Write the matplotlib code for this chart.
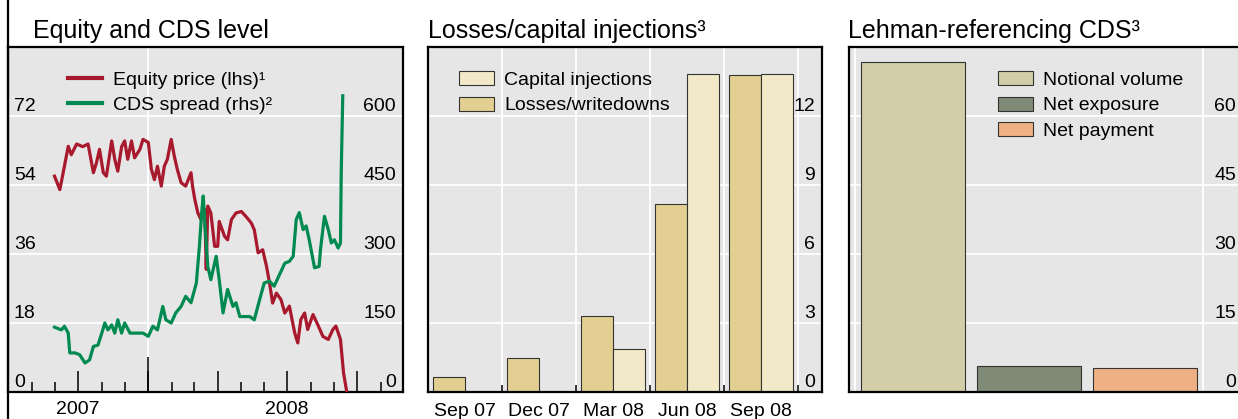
import matplotlib
matplotlib.use("Agg")
import matplotlib.pyplot as plt
import matplotlib.dates as mdates
import matplotlib.transforms as mtransforms
from matplotlib.lines import Line2D
from matplotlib.patches import Patch
import numpy as np
import pandas as pd

plt.rcParams['font.family'] = ['Liberation Sans', 'DejaVu Sans']

# ===== data =====
equity_dates = [
    "2007-08-31", "2007-09-07", "2007-09-13", "2007-09-18", "2007-09-22", "2007-09-29",
    "2007-10-07", "2007-10-14", "2007-10-21", "2007-10-25", "2007-10-29", "2007-11-03",
    "2007-11-07", "2007-11-14", "2007-11-18", "2007-11-22", "2007-11-27", "2007-12-01",
    "2007-12-05", "2007-12-10", "2007-12-14", "2007-12-21", "2007-12-25", "2008-01-01",
    "2008-01-05", "2008-01-09", "2008-01-13", "2008-01-18", "2008-01-22", "2008-01-26",
    "2008-01-31", "2008-02-04", "2008-02-08", "2008-02-13", "2008-02-19", "2008-02-26",
    "2008-02-28", "2008-03-02", "2008-03-06", "2008-03-10", "2008-03-15", "2008-03-17",
    "2008-03-19", "2008-03-23", "2008-03-28", "2008-04-01", "2008-04-03", "2008-04-10",
    "2008-04-14", "2008-04-19", "2008-04-25", "2008-05-02", "2008-05-08", "2008-05-15",
    "2008-05-19", "2008-05-24", "2008-05-30", "2008-06-04", "2008-06-08", "2008-06-12",
    "2008-06-17", "2008-06-23", "2008-06-28", "2008-07-04", "2008-07-11", "2008-07-15",
    "2008-07-19", "2008-07-24", "2008-07-28", "2008-08-04", "2008-08-11", "2008-08-17",
    "2008-08-24", "2008-08-30", "2008-09-03", "2008-09-09", "2008-09-13", "2008-09-17",
]
equity_price = [
    56.3, 52.8, 58.9, 64.1, 61.9, 64.7,
    64.0, 64.7, 57.2, 59.8, 63.3, 57.2,
    56.3, 65.5, 60.7, 57.6, 64.0, 65.5,
    60.7, 65.5, 61.1, 63.3, 65.9, 65.1,
    58.1, 55.4, 58.9, 53.7, 58.9, 60.7,
    65.9, 61.6, 58.1, 54.6, 53.7, 57.2,
    53.7, 50.2, 46.7, 45.0, 47.6, 32.0,
    48.5, 46.7, 38.0, 38.0, 44.5, 40.6,
    39.7, 45.0, 46.7, 47.1, 45.8, 44.1,
    42.3, 36.3, 37.1, 32.8, 28.4, 23.2,
    25.8, 24.1, 20.6, 22.4, 15.4, 12.8,
    18.9, 20.6, 16.3, 20.2, 17.2, 14.5,
    13.7, 16.3, 17.2, 13.7, 5.0, 0.3,
]

cds_dates = [
    "2007-08-31", "2007-09-09", "2007-09-13", "2007-09-18", "2007-09-20", "2007-09-27",
    "2007-10-03", "2007-10-10", "2007-10-16", "2007-10-21", "2007-10-27", "2007-11-01",
    "2007-11-05", "2007-11-09", "2007-11-14", "2007-11-18", "2007-11-22", "2007-11-27",
    "2007-12-01", "2007-12-08", "2007-12-16", "2007-12-25", "2008-01-01", "2008-01-07",
    "2008-01-13", "2008-01-20", "2008-01-24", "2008-01-31", "2008-02-06", "2008-02-13",
    "2008-02-19", "2008-02-26", "2008-03-04", "2008-03-08", "2008-03-11", "2008-03-13",
    "2008-03-16", "2008-03-19", "2008-03-23", "2008-03-30", "2008-04-03", "2008-04-08",
    "2008-04-14", "2008-04-21", "2008-04-25", "2008-04-30", "2008-05-06", "2008-05-13",
    "2008-05-19", "2008-05-26", "2008-06-01", "2008-06-08", "2008-06-14", "2008-06-21",
    "2008-06-28", "2008-07-04", "2008-07-09", "2008-07-13", "2008-07-17", "2008-07-22",
    "2008-07-26", "2008-07-30", "2008-08-06", "2008-08-12", "2008-08-14", "2008-08-19",
    "2008-08-24", "2008-08-28", "2008-09-01", "2008-09-06", "2008-09-09", "2008-09-10",
    "2008-09-12",
]
cds_spread = [
    141, 135, 143, 128, 85, 85,
    81, 63, 70, 99, 102, 128,
    150, 135, 146, 128, 157, 128,
    150, 128, 128, 128, 121, 143,
    135, 186, 157, 150, 172, 186,
    208, 194, 237, 317, 390, 426,
    346, 273, 244, 295, 244, 172,
    223, 186, 194, 164, 164, 164,
    157, 201, 237, 241, 230, 255,
    280, 284, 295, 375, 390, 353,
    361, 331, 270, 273, 313, 382,
    353, 324, 331, 313, 324, 477,
    644,
]

equity_ticks = [0, 18, 36, 54, 72]
cds_ticks = [0, 150, 300, 450, 600]

quarters = ["Sep 07", "Dec 07", "Mar 08", "Jun 08", "Sep 08"]
losses = [0.64, 1.49, 3.29, 8.19, 13.8]
capital = [0.0, 0.0, 1.86, 13.84, 13.84]
loss_ticks = [0, 3, 6, 9, 12]

cds_labels = ["Notional volume", "Net exposure", "Net payment"]
cds_values = [71.7, 5.7, 5.2]
cds_bar_ticks = [0, 15, 30, 45, 60]

# ===== style =====
W, H = 1238, 419
BG = "#e6e6e6"
RED = "#a8192e"
GREEN = "#008a50"
C_LOSS = "#e2cf91"
C_CAP = "#f2e9c9"
C_CDS = ["#d3cea8", "#7f8b76", "#efb083"]
FS = 14
LEG = dict(loc="upper left", frameon=False, fontsize=FS, borderpad=0, borderaxespad=0,
           labelspacing=0.4)

fig = plt.figure(figsize=(W / 100, H / 100), dpi=100)


def px_axes(x0, x1, y0=47, y1=392):
    return fig.add_axes([x0 / W, 1 - y1 / H, (x1 - x0) / W, (y1 - y0) / H])


def style(ax):
    ax.set_facecolor(BG)
    for s in ax.spines.values():
        s.set_linewidth(1.6)
        s.set_color("black")
    ax.grid(axis="y", color="white", lw=1.3)
    ax.set_axisbelow(True)


def no_yticks(ax):
    ax.tick_params(axis="y", which="both", left=False, right=False, length=0,
                   labelleft=False, labelright=False)


def inner_labels(ax, values, side, xpos):
    trans = mtransforms.offset_copy(ax.get_yaxis_transform(), fig=fig, x=0, y=5, units="dots")
    for v in values:
        ax.text(xpos, v, str(v), transform=trans, fontsize=FS,
                ha="left" if side == "left" else "right", va="baseline")


# ----- panel 1: equity and CDS -----
ax1 = px_axes(8, 403)
style(ax1)
eq_x = pd.to_datetime(equity_dates)
cds_x = pd.to_datetime(cds_dates)
ax1.plot(eq_x, equity_price, color=RED, lw=2.3, zorder=3)
ax1.set_ylim(0, 90)
ax1.set_yticks(equity_ticks)
ax1.set_xlim(pd.Timestamp("2007-07-01"), pd.Timestamp("2008-11-30"))
ax1.axvline(pd.Timestamp("2008-01-01"), color="white", lw=1.3, zorder=0)

ax1b = ax1.twinx()
ax1b.plot(cds_x, cds_spread, color=GREEN, lw=2.3)
ax1b.set_ylim(0, 750)
ax1b.set_yticks(cds_ticks)
for s in ax1b.spines.values():
    s.set_visible(False)
no_yticks(ax1)
no_yticks(ax1b)

ax1.xaxis.set_major_locator(mdates.MonthLocator(bymonth=[1, 4, 7, 10]))
ax1.xaxis.set_minor_locator(mdates.MonthLocator())
ax1.tick_params(axis="x", which="major", direction="in", length=15, width=1.1,
                color="black", labelbottom=False, top=False)
ax1.tick_params(axis="x", which="minor", direction="in", length=7.2, width=1.1,
                color="black", labelbottom=False, top=False)
ax1.vlines(pd.Timestamp("2008-01-01"), 0, 35 / 345, transform=ax1.get_xaxis_transform(),
           color="black", lw=1.1, zorder=4)

inner_labels(ax1, equity_ticks, "left", 0.015)
inner_labels(ax1b, cds_ticks, "right", 0.982)
for lab, d in [("2007", "2007-10-01"), ("2008", "2008-07-01")]:
    ax1.text(pd.Timestamp(d), -0.052, lab, transform=ax1.get_xaxis_transform(),
             fontsize=FS, ha="center", va="center")

ax1b.legend([Line2D([], [], color=RED, lw=3), Line2D([], [], color=GREEN, lw=3)],
            ["Equity price (lhs)¹", "CDS spread (rhs)²"],
            bbox_to_anchor=(0.152, 0.930), handlelength=1.75, handletextpad=0.57, **LEG)

# ----- panel 2: losses / capital injections -----
ax2 = px_axes(428, 822)
style(ax2)
x = np.arange(len(quarters))
bw = 0.432
ax2.bar(x - bw / 2, losses, bw, color=C_LOSS, edgecolor="#333333", lw=0.8, zorder=2)
ax2.bar(x + bw / 2, capital, bw, color=C_CAP, edgecolor="#333333", lw=0.8, zorder=2)
ax2.set_ylim(0, 15)
ax2.set_yticks(loss_ticks)
no_yticks(ax2)
ax2.set_xlim(-0.5, 4.82)
ax2.set_xticks(list(x + 0.5))
ax2.set_xticks(x, quarters, minor=True)
ax2.grid(axis="x", which="major", color="white", lw=1.3)
ax2.tick_params(axis="x", which="major", direction="in", length=5, width=1.1,
                color="black", labelbottom=False)
ax2.tick_params(axis="x", which="minor", length=0, labelbottom=True, labelsize=FS, pad=8)
inner_labels(ax2, loss_ticks, "right", 0.982)
ax2.legend([Patch(facecolor=C_CAP, edgecolor="#333333", lw=0.8),
            Patch(facecolor=C_LOSS, edgecolor="#333333", lw=0.8)],
           ["Capital injections", "Losses/writedowns"],
           bbox_to_anchor=(0.079, 0.930), handlelength=1.8, handleheight=0.72,
           handletextpad=0.52, **LEG)

# ----- panel 3: Lehman-referencing CDS -----
ax3 = px_axes(849, 1244)
style(ax3)
x3 = np.arange(len(cds_labels))
ax3.bar(x3, cds_values, 0.897, color=C_CDS, edgecolor="#333333", lw=0.8, zorder=2)
ax3.set_ylim(0, 75)
ax3.set_yticks(cds_bar_ticks)
no_yticks(ax3)
ax3.set_xlim(-0.552, 2.853)
ax3.set_xticks([-0.5, 2.5])
ax3.grid(axis="x", color="white", lw=1.3)
ax3.tick_params(axis="x", length=0, labelbottom=False)
inner_labels(ax3, cds_bar_ticks, "right", 0.98)
ax3.legend([Patch(facecolor=c, edgecolor="#333333", lw=0.8) for c in C_CDS], cds_labels,
           bbox_to_anchor=(0.377, 0.930), handlelength=1.8, handleheight=0.72,
           handletextpad=0.52, **LEG)

# ----- titles and frame line -----
fig.text(33 / W, 1 - 31 / H, "Equity and CDS level", fontsize=18, va="center")
fig.text(428 / W, 1 - 31 / H, "Losses/capital injections³", fontsize=18, va="center")
fig.text(848 / W, 1 - 31 / H, "Lehman-referencing CDS³", fontsize=18, va="center")
fig.add_artist(Line2D([8 / W, 8 / W], [0, 1], color="black", lw=1.6, transform=fig.transFigure))

fig.savefig("out.png", dpi=100)
